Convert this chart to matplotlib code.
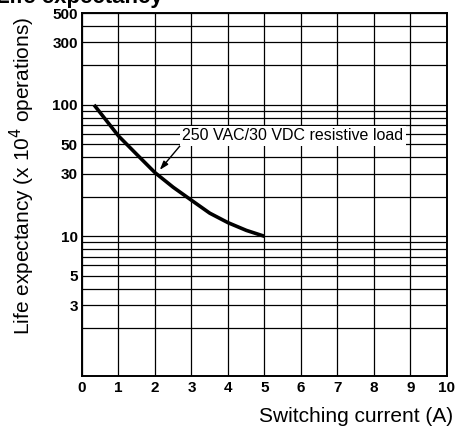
import matplotlib
matplotlib.use("Agg")
import matplotlib.pyplot as plt

plt.rcParams['font.family'] = ['Liberation Sans', 'DejaVu Sans']

# data
current = [0.33, 1.0, 1.5, 2.0, 2.5, 3.0, 3.5, 4.0, 4.5, 5.0]
life = [100, 58, 42, 30.5, 23.6, 18.8, 15.0, 12.7, 11.1, 10.0]

x_ticks = [0, 1, 2, 3, 4, 5, 6, 7, 8, 9, 10]
y_grid = [2, 3, 4, 5, 6, 7, 8, 9, 10, 20, 30, 40, 50, 60, 70, 80, 90, 100, 200, 300, 400]
y_labeled = [3, 5, 10, 30, 50, 100, 300, 500]
y_all = y_grid + [500]

annot_text = "250 VAC/30 VDC resistive load"

fig = plt.figure(figsize=(4.56, 4.26), dpi=100)
ax = fig.add_axes([82/456, 1-375.7/426, (447-82)/456, (375.7-13)/426])

ax.set_yscale('log')
ax.set_xlim(0, 10)
ax.set_ylim(0.87, 500)

ax.set_xticks(x_ticks)
ax.set_xticklabels([str(v) for v in x_ticks], fontsize=11, fontweight='bold')
ax.set_yticks(y_all)
ax.set_yticklabels([str(v) if v in y_labeled else '' for v in y_all], fontsize=11, fontweight='bold')
ax.minorticks_off()
ax.tick_params(length=0)
ax.tick_params(axis='x', pad=4)
ax.tick_params(axis='y', pad=3)

ax.grid(True, which='major', color='black', linewidth=0.9)
for s in ax.spines.values():
    s.set_linewidth(1.4)
    s.set_color('black')

ax.plot(current, life, color='black', linewidth=2.6, solid_capstyle='butt', zorder=3)

ax.annotate(annot_text, xy=(2.13, 32), xytext=(2.74, 58),
            fontsize=11.5, ha='left', va='center',
            bbox=dict(boxstyle='square,pad=0.15', facecolor='white', edgecolor='none'),
            arrowprops=dict(arrowstyle='-|>,head_length=0.45,head_width=0.15', color='black',
                            linewidth=1.0, relpos=(0, 0), shrinkA=0, shrinkB=0),
            zorder=4)

fig.text(22/456, 0.5 + (426/2 - 176)/426, "Life expectancy (x 10$^4$ operations)",
         rotation=90, ha='center', va='center', fontsize=15)
fig.text(453/456, 1 - 422/426, "Switching current (A)", ha='right', va='baseline', fontsize=15)
fig.text(163/456, 1 - 3.5/426, "Life expectancy", ha='right', va='baseline',
         fontsize=16, fontweight='bold')

fig.savefig("out.png", dpi=100)
